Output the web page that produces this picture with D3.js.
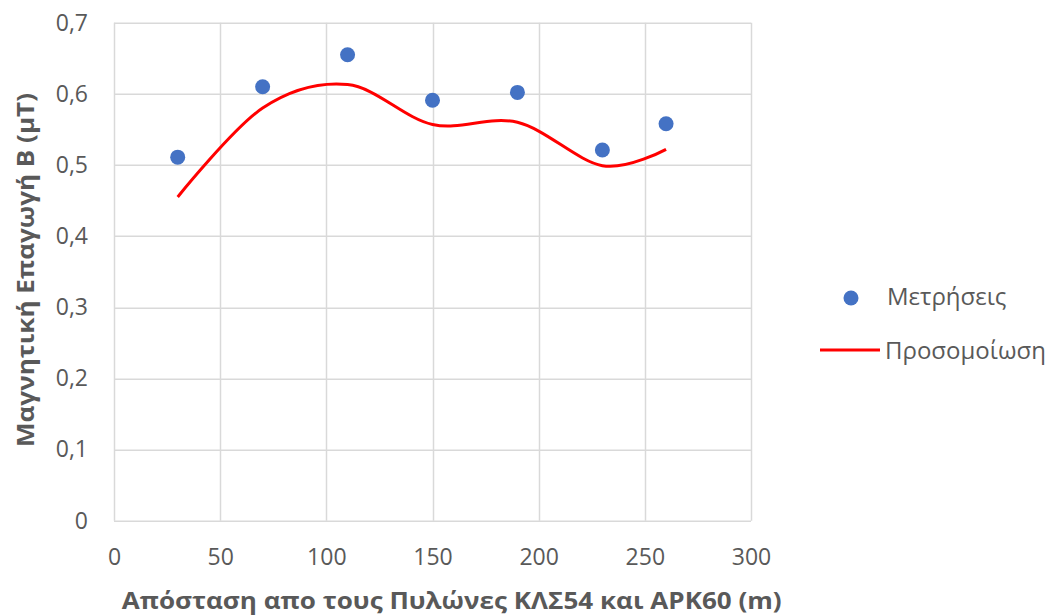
<!DOCTYPE html>
<html>
<head>
<meta charset="utf-8">
<script src="https://cdn.jsdelivr.net/npm/d3@7"></script>
<style>
  body { margin: 0; background: #fff; }
  text { font-family: "Open Sans", "Noto Sans", sans-serif; fill: #595959; }
</style>
</head>
<body>
<div id="chart"></div>
<script>
// distances (m)
const distances = [30, 70, 110, 150, 190, 230, 260];
// measured values (μT)
const measured = [0.511, 0.610, 0.655, 0.591, 0.602, 0.521, 0.558];
// simulated values (μT)
const simulated = [0.455, 0.580, 0.613, 0.557, 0.560, 0.499, 0.522];
const xTicks = [0, 50, 100, 150, 200, 250, 300];
const yTicks = [0, 0.1, 0.2, 0.3, 0.4, 0.5, 0.6, 0.7];
const seriesNames = ["Μετρήσεις", "Προσομοίωση"];
const xTitle = "Απόσταση απο τους Πυλώνες ΚΛΣ54 και ΑΡΚ60 (m)";
const yTitle = "Μαγνητική Επαγωγή Β (μΤ)";

const width = 1053, height = 616;
const margin = { top: 22.7, right: 302, bottom: 95.3, left: 114 };
const innerW = width - margin.left - margin.right;
const innerH = height - margin.top - margin.bottom;

const locale = d3.formatLocale({ decimal: ",", thousands: ".", grouping: [3], currency: ["", "€"] });
const fmt = locale.format(".1~f");

const svg = d3.select("#chart").append("svg")
  .attr("width", width)
  .attr("height", height);

const g = svg.append("g")
  .attr("transform", `translate(${margin.left},${margin.top})`);

const x = d3.scaleLinear().domain([0, 300]).range([0, innerW]);
const y = d3.scaleLinear().domain([0, 0.7]).range([innerH, 0]);

// gridlines
g.append("g")
  .selectAll("line")
  .data(yTicks)
  .join("line")
  .attr("x1", 0).attr("x2", innerW)
  .attr("y1", d => Math.round(y(d)) + 0.5).attr("y2", d => Math.round(y(d)) + 0.5)
  .attr("stroke", "#d9d9d9").attr("stroke-width", 1.5);

g.append("g")
  .selectAll("line")
  .data(xTicks)
  .join("line")
  .attr("x1", d => Math.round(x(d)) + 0.5).attr("x2", d => Math.round(x(d)) + 0.5)
  .attr("y1", 0).attr("y2", innerH)
  .attr("stroke", "#d9d9d9").attr("stroke-width", 1.5);

// axes (labels only)
const xAxis = g.append("g")
  .attr("transform", `translate(0,${innerH})`)
  .call(d3.axisBottom(x).tickValues(xTicks).tickSize(0).tickPadding(28).tickFormat(fmt));
const yAxis = g.append("g")
  .call(d3.axisLeft(y).tickValues(yTicks).tickSize(0).tickPadding(26).tickFormat(fmt));
[xAxis, yAxis].forEach(a => {
  a.select(".domain").remove();
  a.selectAll("text").attr("font-size", 23).attr("fill", "#595959")
    .style("font-family", "'Open Sans', sans-serif");
});

// simulation line
const line = d3.line()
  .x((d, i) => x(distances[i]))
  .y(d => y(d))
  .curve(d3.curveCardinal.tension(0));

g.append("path")
  .datum(simulated)
  .attr("fill", "none")
  .attr("stroke", "#ff0000")
  .attr("stroke-width", 3)
  .attr("d", line);

// measurement points
g.selectAll("circle.pt")
  .data(measured)
  .join("circle")
  .attr("class", "pt")
  .attr("cx", (d, i) => x(distances[i]))
  .attr("cy", d => y(d))
  .attr("r", 7.5)
  .attr("fill", "#4472c4");

// axis titles
svg.append("text")
  .attr("x", 451.7)
  .attr("y", 609)
  .attr("text-anchor", "middle")
  .attr("font-size", 24)
  .attr("font-weight", "bold")
  .attr("textLength", 660)
  .attr("lengthAdjust", "spacingAndGlyphs")
  .text(xTitle);

svg.append("text")
  .attr("transform", `translate(33.5,270) rotate(-90)`)
  .attr("text-anchor", "middle")
  .attr("font-size", 24)
  .attr("font-weight", "bold")
  .attr("textLength", 354)
  .attr("lengthAdjust", "spacingAndGlyphs")
  .text(yTitle);

// legend
const legend = svg.append("g");
legend.append("circle")
  .attr("cx", 851).attr("cy", 298).attr("r", 7.5)
  .attr("fill", "#4472c4");
legend.append("text")
  .attr("x", 887).attr("y", 305)
  .attr("font-size", 24)
  .text(seriesNames[0]);
legend.append("line")
  .attr("x1", 820).attr("x2", 880)
  .attr("y1", 350).attr("y2", 350)
  .attr("stroke", "#ff0000").attr("stroke-width", 3);
legend.append("text")
  .attr("x", 885).attr("y", 359)
  .attr("font-size", 24)
  .text(seriesNames[1]);
</script>
</body>
</html>
